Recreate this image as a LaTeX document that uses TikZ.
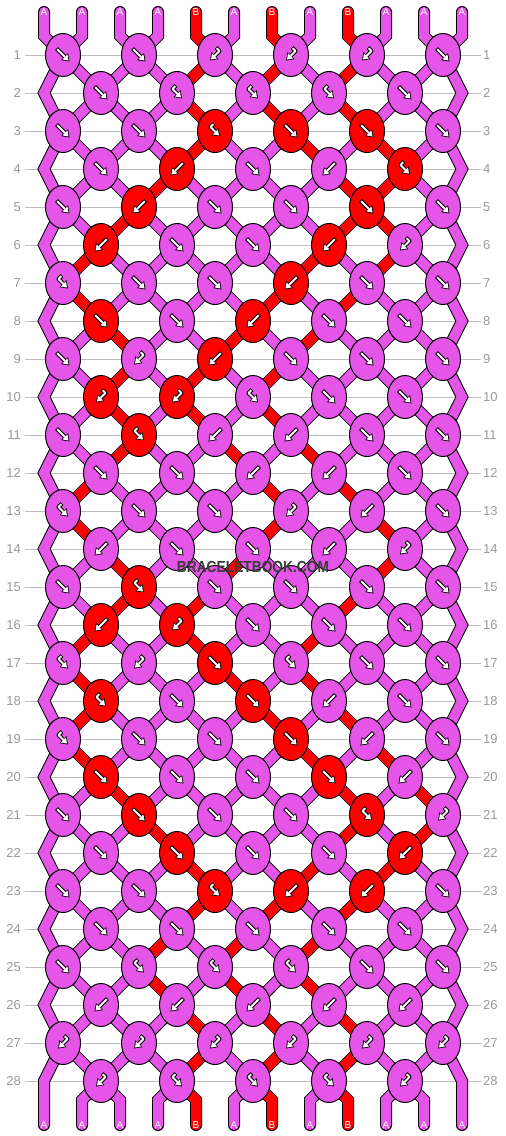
\documentclass[tikz,border=0pt]{standalone}
\usepackage{fontspec}
\setmainfont{Liberation Sans}
\usetikzlibrary{shapes.geometric,arrows.meta}

\definecolor{colA}{HTML}{E556E8}
\definecolor{colB}{HTML}{FF0000}
\definecolor{gridgray}{HTML}{BEBEBE}
\definecolor{numgray}{HTML}{9A9A9A}
\definecolor{markgray}{HTML}{3C3C3C}

\tikzset{
  rowline/.style={draw=gridgray, line width=1pt},
  rownum/.style={text=numgray, inner sep=0pt, font=\fontsize{13}{13}\selectfont},
  endlbl/.style={text=white, inner sep=0pt, font=\fontsize{10}{10}\selectfont},
  strout/.style={draw=black, line width=12pt, line cap=round},
  strmag/.style={draw=colA, line width=10pt, line cap=round},
  strred/.style={draw=colB, line width=10pt, line cap=round},
  knot/.style={ellipse, draw=black, line width=1pt, minimum width=35pt, minimum height=43pt, inner sep=0pt},
  knotm/.style={knot, fill=colA},
  knotr/.style={knot, fill=colB},
  icoout/.style={draw=black, line width=4pt, line join=round,
    -{Triangle[width=10pt,length=7pt,line width=0pt]}},
  icoin/.style={draw=white, line width=2pt, line join=round, shorten <=1pt, shorten >=1.4pt,
    -{Triangle[width=7pt,length=5pt,line width=0pt]}},
}

% knot icons: forward, backward, and the two bent ones
\newcommand\iconf[1]{%
  \draw[icoout] ([shift={(-6.5,-6.5)}]#1.center) -- ([shift={(6.5,6.5)}]#1.center);
  \draw[icoin]  ([shift={(-6.5,-6.5)}]#1.center) -- ([shift={(6.5,6.5)}]#1.center);}
\newcommand\iconb[1]{%
  \draw[icoout] ([shift={(6.5,-6.5)}]#1.center) -- ([shift={(-6.5,6.5)}]#1.center);
  \draw[icoin]  ([shift={(6.5,-6.5)}]#1.center) -- ([shift={(-6.5,6.5)}]#1.center);}
\newcommand\iconx[1]{%
  \draw[icoout] ([shift={(1,-7.5)}]#1.center) -- ([shift={(4.5,-4)}]#1.center) -- ([shift={(-5,5.5)}]#1.center);
  \draw[icoin]  ([shift={(1,-7.5)}]#1.center) -- ([shift={(4.5,-4)}]#1.center) -- ([shift={(-5,5.5)}]#1.center);}
\newcommand\icony[1]{%
  \draw[icoout] ([shift={(-1,-7.5)}]#1.center) -- ([shift={(-4.5,-4)}]#1.center) -- ([shift={(5,5.5)}]#1.center);
  \draw[icoin]  ([shift={(-1,-7.5)}]#1.center) -- ([shift={(-4.5,-4)}]#1.center) -- ([shift={(5,5.5)}]#1.center);}

% every string piece, drawn once per pass
\newcommand\allstrings[1]{%
  \draw[#1] (t1) -- (tk1)
    \foreach \r [evaluate=\r as \rn using int(\r+1)] in {1,3,...,27}{ -- (c\r-1) -- (eL\rn) } -- (b1);
  \draw[#1] (t12) -- (tk12)
    \foreach \r [evaluate=\r as \rn using int(\r+1)] in {1,3,...,27}{ -- (c\r-6) -- (eR\rn) } -- (b12);
  \foreach \p in {2,...,11}{
    \pgfmathtruncatemacro\ka{(\p+1)/2}
    \pgfmathtruncatemacro\kb{\p/2}
    \draw[#1] (t\p) -- (tk\p) -- (c1-\ka);
    \draw[#1] (c28-\kb) -- (bk\p) -- (b\p);
  }
  \foreach \r [evaluate=\r as \rn using int(\r+1)] in {1,...,27}
    \foreach \p in {2,...,11}{
      \pgfmathtruncatemacro\ka{isodd(\r) ? (\p+1)/2 : \p/2}
      \pgfmathtruncatemacro\kb{isodd(\rn) ? (\p+1)/2 : \p/2}
      \draw[#1] (c\r-\ka) -- (c\rn-\kb);
    }
}

\begin{document}
\begin{tikzpicture}[x=1pt,y=-1pt]
\useasboundingbox (0,0) rectangle (506,1136);

% row numbers and guide lines
\foreach \r in {1,...,28}{
  \node[rownum, anchor=east] (nl\r) at (21,17+38*\r) {\r};
  \node[rownum, anchor=west] (nr\r) at (483,17+38*\r) {\r};
  \draw[rowline] ([xshift=4pt]nl\r.east) -- ([xshift=-2pt]nr\r.west);
}

% knot centres
\foreach \r in {1,3,...,27}
  \foreach \k in {1,...,6}
    \coordinate (c\r-\k) at (-13+76*\k, 17+38*\r);
\foreach \r in {2,4,...,28}{
  \foreach \k in {1,...,5}
    \coordinate (c\r-\k) at (25+76*\k, 17+38*\r);
  \coordinate (eL\r) at (44, 17+38*\r);
  \coordinate (eR\r) at (462, 17+38*\r);
}
\foreach \p in {1,...,12}{
  \coordinate (t\p) at (6+38*\p, 12);
  \coordinate (tk\p) at (6+38*\p, 36);
  \coordinate (bk\p) at (6+38*\p, 1100);
  \coordinate (b\p) at (6+38*\p, 1125);
}

% strings
\allstrings{strout}
\allstrings{strmag}
\foreach \p in {5,7,9}{
  \pgfmathtruncatemacro\ka{(\p+1)/2}
  \pgfmathtruncatemacro\kb{\p/2}
  \draw[strred] (t\p) -- (tk\p) -- (c1-\ka);
  \draw[strred] (c28-\kb) -- (bk\p) -- (b\p);
}
\foreach \r/\pa/\pb/\pc in {1/5/7/9, 2/5/7/9, 3/5/8/10, 4/4/9/10, 5/3/9/10, 6/2/8/10,
    7/2/7/9, 8/3/6/8, 9/3/5/7, 10/3/5/7, 11/3/6/8, 12/2/7/9, 13/2/7/10, 14/3/6/10,
    15/3/5/9, 16/2/5/8, 17/2/6/8, 18/2/7/9, 19/2/8/10, 20/3/9/11, 21/4/9/11,
    22/5/8/10, 23/5/7/9, 24/4/6/8, 25/4/6/8, 26/5/7/9, 27/5/7/9}{
  \pgfmathtruncatemacro\rn{\r+1}
  \foreach \p in {\pa,\pb,\pc}{
    \pgfmathtruncatemacro\ka{isodd(\r) ? (\p+1)/2 : \p/2}
    \pgfmathtruncatemacro\kb{isodd(\rn) ? (\p+1)/2 : \p/2}
    \draw[strred] (c\r-\ka) -- (c\rn-\kb);
  }
}

% string names at both ends
\foreach \s [count=\p] in {A,A,A,A,B,A,B,A,B,A,A,A}{
  \node[endlbl] (lt\p) at (t\p) {\s};
  \node[endlbl] (lb\p) at (b\p) {\s};
}

% knots
\foreach \r/\ks in {
    1/{f/m,f/m,x/m,x/m,x/m,f/m},   2/{f/m,y/m,y/m,y/m,f/m},
    3/{f/m,f/m,y/r,f/r,f/r,f/m},   4/{f/m,b/r,f/m,b/m,y/r},
    5/{f/m,b/r,f/m,f/m,f/r,f/m},   6/{b/r,f/m,f/m,b/r,x/m},
    7/{y/m,f/m,f/m,b/r,f/m,f/m},   8/{f/r,f/m,b/r,f/m,f/m},
    9/{f/m,x/m,b/r,f/m,f/m,f/m},  10/{x/r,x/r,y/m,f/m,f/m},
   11/{f/m,y/r,b/m,b/m,f/m,f/m},  12/{f/m,f/m,b/m,b/m,f/m},
   13/{y/m,f/m,f/m,x/m,b/m,f/m},  14/{b/m,f/m,f/m,b/m,x/m},
   15/{f/m,y/r,f/m,f/m,f/m,f/m},  16/{b/r,x/r,f/m,f/m,f/m},
   17/{y/m,x/m,f/r,y/m,f/m,f/m},  18/{y/r,f/m,f/r,b/m,f/m},
   19/{y/m,f/m,f/m,f/r,b/m,f/m},  20/{f/r,f/m,f/m,f/r,b/m},
   21/{f/m,f/r,f/m,f/m,y/r,x/m},  22/{f/m,f/r,f/m,f/m,b/r},
   23/{f/m,f/m,y/r,b/r,b/r,f/m},  24/{f/m,f/m,f/m,f/m,f/m},
   25/{f/m,y/m,y/m,y/m,f/m,f/m},  26/{b/m,b/m,b/m,b/m,b/m},
   27/{x/m,x/m,x/m,x/m,x/m,x/m},  28/{x/m,y/m,y/m,y/m,x/m}}{
  \foreach \kt/\kc [count=\k] in \ks {
    \node[knot\kc] (k\r-\k) at (c\r-\k) {};
    \csname icon\kt\endcsname{k\r-\k}
  }
}

\node[text=markgray, inner sep=0pt, font=\fontsize{16}{16}\selectfont\bfseries] (mark) at (253,567)
  {\scalebox{0.86}[1]{BRACELETBOOK.COM}};
\end{tikzpicture}
\end{document}
